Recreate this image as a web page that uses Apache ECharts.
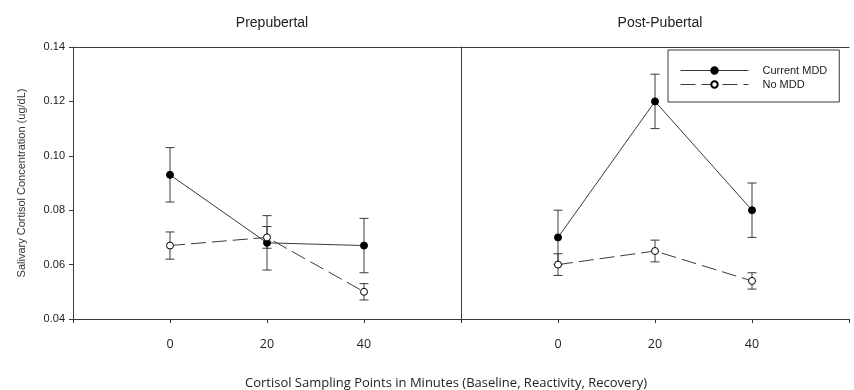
<!DOCTYPE html>
<html>
<head>
<meta charset="utf-8">
<script src="https://cdn.jsdelivr.net/npm/echarts@6/dist/echarts.min.js"></script>
<style>
html, body { margin: 0; padding: 0; background: #fff; }
#chart { width: 854px; height: 390px; }
</style>
</head>
<body>
<div id="chart"></div>
<script>
// ---- data ----
const panelTitles = ['Prepubertal', 'Post-Pubertal'];
const seriesNames = ['Current MDD', 'No MDD'];
const times = [0, 20, 40];
const xTickLabels = ['0', '20', '40'];
const yTickLabels = ['0.04', '0.06', '0.08', '0.10', '0.12', '0.14'];

const preCurrent     = [0.093, 0.068, 0.067];
const preCurrentLow  = [0.083, 0.058, 0.057];
const preCurrentHigh = [0.103, 0.078, 0.077];
const preNo          = [0.067, 0.070, 0.050];
const preNoLow       = [0.062, 0.066, 0.047];
const preNoHigh      = [0.072, 0.074, 0.053];

const postCurrent     = [0.070, 0.120, 0.080];
const postCurrentLow  = [0.060, 0.110, 0.070];
const postCurrentHigh = [0.080, 0.130, 0.090];
const postNo          = [0.060, 0.065, 0.054];
const postNoLow       = [0.056, 0.061, 0.051];
const postNoHigh      = [0.064, 0.069, 0.057];

const xTitle = 'Cortisol Sampling Points in Minutes (Baseline, Reactivity, Recovery)';
const yTitle = 'Salivary Cortisol Concentration (ug/dL)';

// ---- chart ----
const LINE = '#3a3a3a';
const TEXT = '#222';

function pts(vals) { return times.map((t, i) => [t, vals[i]]); }
function errs(lo, hi) { return times.map((t, i) => [t, lo[i], hi[i]]); }

function errRender(params, api) {
  const x = api.value(0), lo = api.value(1), hi = api.value(2);
  const a = api.coord([x, lo]), b = api.coord([x, hi]);
  const w = 4.5;
  const st = { stroke: LINE, lineWidth: 1 };
  return {
    type: 'group',
    children: [
      { type: 'line', shape: { x1: a[0], y1: a[1], x2: b[0], y2: b[1] }, style: st },
      { type: 'line', shape: { x1: a[0] - w, y1: a[1], x2: a[0] + w, y2: a[1] }, style: st },
      { type: 'line', shape: { x1: b[0] - w, y1: b[1], x2: b[0] + w, y2: b[1] }, style: st }
    ]
  };
}

function xLabel(v) {
  const i = times.indexOf(v);
  return i >= 0 ? xTickLabels[i] : '';
}
function yLabel(v) {
  const s = v.toFixed(2);
  return yTickLabels.indexOf(s) >= 0 ? s : '';
}

const xBase = {
  type: 'value', min: -20, max: 60, interval: 20,
  splitLine: { show: false },
  axisLine: { show: true, onZero: false, lineStyle: { color: LINE, width: 1 } }
};
const yBase = {
  type: 'value', min: 0.04, max: 0.14, interval: 0.02,
  splitLine: { show: false },
  axisLine: { show: true, onZero: false, lineStyle: { color: LINE, width: 1 } }
};

function lineSeries(name, data, xi, yi, filled) {
  return {
    type: 'line', name: name, data: data,
    xAxisIndex: xi, yAxisIndex: yi,
    symbol: 'circle', symbolSize: 7,
    z: 5,
    lineStyle: { color: LINE, width: 1, type: filled ? 'solid' : [15, 6] },
    itemStyle: { color: filled ? '#000' : '#fff', borderColor: '#000', borderWidth: 1 }
  };
}
function errSeries(data, xi, yi) {
  return {
    type: 'custom', data: data, xAxisIndex: xi, yAxisIndex: yi,
    renderItem: errRender, z: 3, silent: true,
    encode: { x: 0, y: [1, 2] }
  };
}

const option = {
  animation: false,
  backgroundColor: '#fff',
  textStyle: { fontFamily: 'Liberation Sans, Arial, sans-serif' },
  title: [
    { text: panelTitles[0], left: 267, top: 11, textAlign: 'center',
      textStyle: { fontSize: 14, fontWeight: 'normal', color: TEXT, fontFamily: 'Liberation Sans, Arial' } },
    { text: panelTitles[1], left: 655, top: 11, textAlign: 'center',
      textStyle: { fontSize: 14, fontWeight: 'normal', color: TEXT, fontFamily: 'Liberation Sans, Arial' } },
    { text: xTitle, left: 441, top: 372, textAlign: 'center',
      textStyle: { fontSize: 13, fontWeight: 'normal', color: TEXT, fontFamily: 'Open Sans' } }
  ],
  legend: {
    data: seriesNames,
    orient: 'vertical',
    left: 668, top: 50,
    padding: [14, 12, 11, 12],
    itemGap: 1,
    itemWidth: 68, itemHeight: 8,
    borderColor: LINE, borderWidth: 1,
    lineStyle: { width: 1 },
    textStyle: { fontSize: 11, lineHeight: 13, color: TEXT, fontFamily: 'Liberation Sans, Arial', padding: [0, 0, 0, 9] }
  },
  grid: [
    { left: 73, right: 854 - 461, top: 47, bottom: 390 - 319 },
    { left: 461, right: 5, top: 47, bottom: 390 - 319 }
  ],
  xAxis: [
    Object.assign({}, xBase, { gridIndex: 0, position: 'bottom',
      axisTick: { show: true, inside: false, length: 4, lineStyle: { color: LINE } },
      axisLabel: { formatter: xLabel, margin: 19, fontSize: 12.5, color: TEXT, fontFamily: 'Open Sans' } }),
    Object.assign({}, xBase, { gridIndex: 0, position: 'top',
      axisTick: { show: false }, axisLabel: { show: false } }),
    Object.assign({}, xBase, { gridIndex: 1, position: 'bottom',
      axisTick: { show: true, inside: false, length: 4, lineStyle: { color: LINE } },
      axisLabel: { formatter: xLabel, margin: 19, fontSize: 12.5, color: TEXT, fontFamily: 'Open Sans' } }),
    Object.assign({}, xBase, { gridIndex: 1, position: 'top',
      axisTick: { show: false }, axisLabel: { show: false } })
  ],
  yAxis: [
    Object.assign({}, yBase, { gridIndex: 0, position: 'left',
      name: yTitle, nameLocation: 'middle', nameRotate: 90, nameGap: 46,
      nameTextStyle: { fontSize: 11, color: '#333', fontFamily: 'Liberation Sans, Arial' },
      axisTick: { show: true, inside: false, length: 4, lineStyle: { color: LINE } },
      axisLabel: { formatter: yLabel, margin: 8, fontSize: 11, color: TEXT, fontFamily: 'Liberation Sans, Arial' } }),
    Object.assign({}, yBase, { gridIndex: 0, position: 'right',
      axisTick: { show: false }, axisLabel: { show: false } }),
    Object.assign({}, yBase, { gridIndex: 1, position: 'left',
      axisLine: { show: false }, axisTick: { show: false }, axisLabel: { show: false } })
  ],
  series: [
    errSeries(errs(preCurrentLow, preCurrentHigh), 0, 0),
    errSeries(errs(preNoLow, preNoHigh), 0, 0),
    errSeries(errs(postCurrentLow, postCurrentHigh), 2, 2),
    errSeries(errs(postNoLow, postNoHigh), 2, 2),
    lineSeries(seriesNames[0], pts(preCurrent), 0, 0, true),
    lineSeries(seriesNames[1], pts(preNo), 0, 0, false),
    lineSeries(seriesNames[0], pts(postCurrent), 2, 2, true),
    lineSeries(seriesNames[1], pts(postNo), 2, 2, false)
  ]
};

const chart = echarts.init(document.getElementById('chart'), null, { renderer: 'canvas' });
chart.setOption(option);
</script>
</body>
</html>
